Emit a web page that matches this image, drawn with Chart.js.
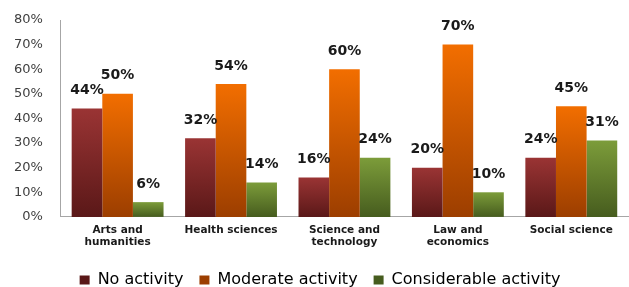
<!DOCTYPE html>
<html>
<head>
<meta charset="utf-8">
<script src="https://cdn.jsdelivr.net/npm/chart.js@4/dist/chart.umd.min.js"></script>
<style>
  html, body { margin: 0; padding: 0; background: #fff; }
  #wrap { width: 629px; height: 287px; position: relative; }
</style>
</head>
<body>
<div id="wrap"><canvas id="chart"></canvas></div>
<script>
const categories = [['Arts and', 'humanities'], 'Health sciences', ['Science and', 'technology'], ['Law and', 'economics'], 'Social science'];
const noActivity = [44, 32, 16, 20, 24];
const moderateActivity = [50, 54, 60, 70, 45];
const considerableActivity = [6, 14, 24, 10, 31];
const yTicks = [0, 10, 20, 30, 40, 50, 60, 70, 80];

// top / bottom colours of each bar gradient
const seriesColors = {
  'No activity': ['#9a3434', '#5a1818'],
  'Moderate activity': ['#f26e00', '#9c3e00'],
  'Considerable activity': ['#7c9c3a', '#465c1e']
};

function barGradient(context) {
  const chart = context.chart;
  const cols = seriesColors[context.dataset.label];
  if (!chart.chartArea || context.parsed == null) return cols[0];
  const y = chart.scales.y;
  const top = y.getPixelForValue(context.parsed.y);
  const bottom = y.getPixelForValue(0);
  if (!isFinite(top) || bottom - top < 1) return cols[0];
  const g = chart.ctx.createLinearGradient(0, top, 0, bottom);
  g.addColorStop(0, cols[0]);
  g.addColorStop(1, cols[1]);
  return g;
}

const valueLabels = {
  id: 'valueLabels',
  afterDatasetsDraw(chart) {
    const ctx = chart.ctx;
    ctx.save();
    ctx.font = 'bold 14px "DejaVu Sans"';
    ctx.fillStyle = '#1a1a1a';
    ctx.textAlign = 'center';
    ctx.textBaseline = 'middle';
    chart.data.datasets.forEach((ds, i) => {
      chart.getDatasetMeta(i).data.forEach((bar, j) => {
        ctx.fillText(ds.data[j] + '%', bar.x, bar.y - 18);
      });
    });
    ctx.restore();
  }
};

// legend in the original sits a little right of centre
const legendShift = {
  id: 'legendShift',
  afterLayout(chart) {
    chart.legend.left += 16;
  }
};

new Chart(document.getElementById('chart'), {
  type: 'bar',
  data: {
    labels: categories,
    datasets: [
      { label: 'No activity', data: noActivity, backgroundColor: barGradient },
      { label: 'Moderate activity', data: moderateActivity, backgroundColor: barGradient },
      { label: 'Considerable activity', data: considerableActivity, backgroundColor: barGradient }
    ]
  },
  options: {
    responsive: true,
    maintainAspectRatio: false,
    animation: false,
    categoryPercentage: 0.81,
    barPercentage: 1.0,
    layout: { padding: { top: 20, right: 1, left: -4, bottom: -11 } },
    plugins: {
      legend: {
        position: 'bottom',
        labels: {
          color: '#404040',
          font: { family: '"DejaVu Sans"', size: 16 },
          boxWidth: 10,
          boxHeight: 9,
          padding: 16,
          generateLabels(chart) {
            return chart.data.datasets.map((ds, i) => ({
              text: ds.label,
              fillStyle: seriesColors[ds.label][1],
              strokeStyle: seriesColors[ds.label][1],
              lineWidth: 0,
              datasetIndex: i
            }));
          }
        }
      },
      tooltip: { enabled: false }
    },
    scales: {
      x: {
        grid: { display: false, drawTicks: false },
        border: { color: '#a6a6a6' },
        ticks: {
          color: '#1a1a1a',
          font: { family: '"DejaVu Sans"', size: 10.5, weight: 'bold', lineHeight: 1.1 },
          padding: 8,
          maxRotation: 0,
          autoSkip: false
        }
      },
      y: {
        min: 0,
        max: 80,
        afterBuildTicks(axis) { axis.ticks = yTicks.map(v => ({ value: v })); },
        afterFit(axis) { axis.paddingTop = 0; },
        grid: { display: false, drawTicks: false },
        border: { color: '#a6a6a6' },
        ticks: {
          color: '#404040',
          font: { family: '"DejaVu Sans"', size: 13 },
          padding: 18,
          callback: v => v + '%'
        }
      }
    }
  },
  plugins: [valueLabels, legendShift]
});
</script>
</body>
</html>
